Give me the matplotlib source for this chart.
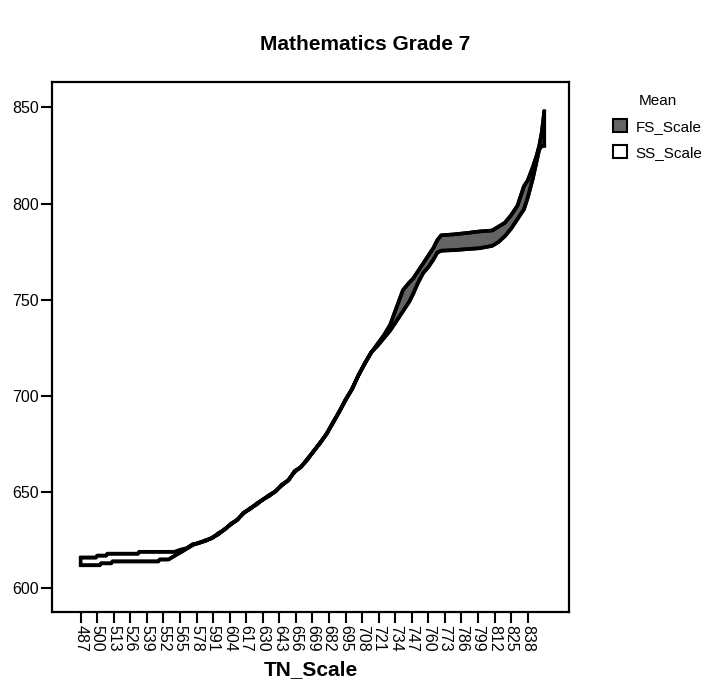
import matplotlib
matplotlib.use('Agg')
import matplotlib.pyplot as plt
from matplotlib.patches import Patch
import numpy as np

plt.rcParams['font.family'] = ['Liberation Sans', 'DejaVu Sans']

tn = [487, 499, 500, 502, 503, 507, 508, 511, 512, 532, 533, 548, 549, 556,
      561, 565, 570, 575, 580, 585, 590, 595, 600, 605, 610, 615, 620, 625,
      630, 635, 640, 645, 650, 655, 660, 665, 670, 675, 680, 685, 690, 695,
      700, 705, 710, 715, 720, 725, 730, 735, 740, 745, 748, 752, 756, 760,
      764, 767, 770, 780, 790, 800, 810, 815, 820, 825, 830, 835, 838, 842,
      845, 847, 849, 851]

fs_scale = [612, 612, 612, 612, 613, 613, 613, 613, 614, 614, 614, 614, 615, 615,
            617, 618.5, 620.5, 622.5, 623.8, 624.6, 626.3, 628, 630.8, 633.2, 635.8, 639, 641.6, 643.5,
            646.2, 648, 650.6, 653.5, 656.3, 660.5, 663.2, 666.8, 671.5, 675.4, 680.3, 685.8, 691.9, 697.8,
            703.6, 710.5, 717, 722.4, 727, 731.5, 737, 746, 755, 759, 761, 765, 769, 773,
            777, 781, 783.5, 784, 784.7, 785.5, 786, 788, 790, 794, 799, 809, 812, 819,
            825, 830, 837, 848]

ss_scale = [616, 616, 617, 617, 617, 617, 618, 618, 618, 618, 619, 619, 619, 619,
            619, 620, 620.8, 622.9, 623.5, 625, 626, 628.6, 630.5, 633.6, 635.5, 639.4, 641.2, 644,
            646, 648.5, 650.3, 654, 656, 661, 663, 667.3, 671.2, 675.8, 680.1, 686.2, 691.6, 698.2,
            703.4, 710.8, 716.6, 722.6, 726, 730, 734, 739, 744, 749, 753, 759, 764, 767,
            771, 774.5, 775.5, 775.8, 776.3, 776.8, 778, 780, 783, 787, 792, 797, 803, 813,
            822, 828, 830, 830]

xticks = list(range(487, 839, 13))
yticks = [600, 650, 700, 750, 800, 850]

x = np.array(tn, dtype=float)
fs = np.array(fs_scale)
ss = np.array(ss_scale)

fig = plt.figure(figsize=(7.09, 6.87), dpi=100)
ax = fig.add_axes([52/709, 1-612/687, 517/709, 530/687])

ax.fill_between(x, fs, ss, where=fs >= ss, interpolate=True,
                facecolor='#646464', edgecolor='black', linewidth=2.6, joinstyle='round')
ax.fill_between(x, fs, ss, where=fs < ss, interpolate=True,
                facecolor='white', edgecolor='black', linewidth=2.6, joinstyle='round')
ax.plot(x, fs, color='black', lw=2.6, solid_joinstyle='round')
ax.plot(x, ss, color='black', lw=2.6, solid_joinstyle='round')

ax.set_xlim(464.5, 870.4)
ax.set_ylim(587.7, 863.2)
ax.set_xticks(xticks)
ax.set_xticklabels([str(t) for t in xticks], rotation=270, fontsize=11.5)
ax.set_yticks(yticks)
ax.set_yticklabels([str(t) for t in yticks], fontsize=11.5)
ax.tick_params(direction='out', length=8, width=1.5, pad=1.5)
for s in ax.spines.values():
    s.set_linewidth(1.6)

ax.set_xlabel('TN_Scale', fontsize=15, fontweight='bold', labelpad=6)
fig.text(365/709, 1-45/687, 'Mathematics Grade 7', fontsize=15, fontweight='bold',
         ha='center', va='center')

handles = [Patch(facecolor='#646464', edgecolor='black', linewidth=1.5, label='FS_Scale'),
           Patch(facecolor='white', edgecolor='black', linewidth=1.5, label='SS_Scale')]
fig.legend(handles=handles, title='Mean', loc='upper left', bbox_to_anchor=(599/709, 1-80/687),
           frameon=False, fontsize=11, title_fontsize=11, handlelength=0.9, handleheight=0.9,
           handletextpad=0.6, labelspacing=0.75)

fig.savefig('out.png', dpi=100)
